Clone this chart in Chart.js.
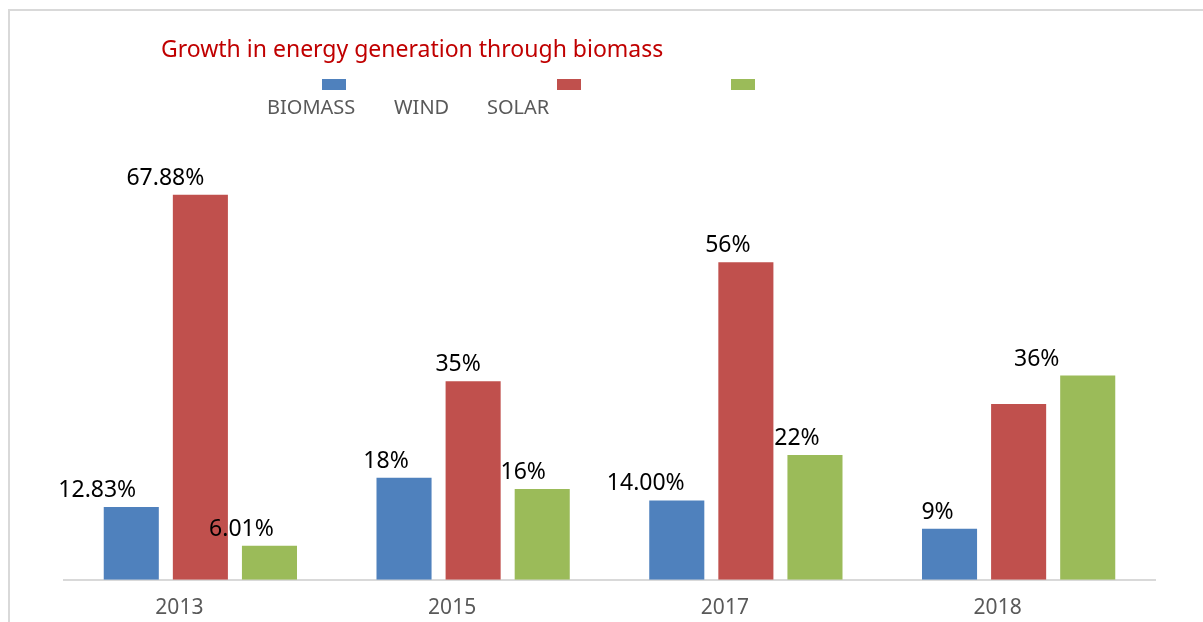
<!DOCTYPE html>
<html>
<head>
<meta charset="utf-8">
<script src="https://cdn.jsdelivr.net/npm/chart.js@4.4.1/dist/chart.umd.min.js"></script>
<style>
  html, body { margin: 0; padding: 0; background: #fff; overflow: hidden; }
  #wrap { width: 1203px; height: 637px; position: relative; }
</style>
</head>
<body>
<div id="wrap"><canvas id="graphe"></canvas></div>
<script>
// data
const years = ['2013', '2015', '2017', '2018'];
const biomass = [12.83, 18, 14, 9];
const wind = [67.88, 35, 56, 31];
const solar = [6.01, 16, 22, 36];
const biomassText = ['12.83%', '18%', '14.00%', '9%'];
const windText = ['67.88%', '35%', '56%', ''];
const solarText = ['6.01%', '16%', '22%', '36%'];

const blue = '#4f81bd';
const red = '#c0504d';
const green = '#9bbb59';
const font = '"Noto Sans", "Open Sans", sans-serif';

// label shift to the left of each bar, like in the original
const shifts = [
  [-34, -18, -31, -12],
  [-35, -15, -18, 0],
  [-28, -19, -18, -51]
];
const texts = [biomassText, windText, solarText];

const decor = {
  id: 'decor',
  beforeDraw(chart) {
    const c = chart.ctx;
    c.save();
    c.fillStyle = '#fff';
    c.fillRect(0, 0, chart.width, chart.height);
    c.strokeStyle = '#d9d9d9';
    c.lineWidth = 2;
    c.beginPath();
    c.moveTo(9, chart.height);
    c.lineTo(9, 10);
    c.lineTo(chart.width, 10);
    c.stroke();
    c.restore();
  },
  afterDatasetsDraw(chart) {
    const c = chart.ctx;
    c.save();
    // title
    c.font = '23px ' + font;
    c.fillStyle = '#c00000';
    c.textBaseline = 'alphabetic';
    c.textAlign = 'left';
    c.fillText('Growth in energy generation through biomass', 161, 57);

    // legend, boxes and names sit apart as in the picture
    const boxes = [[322, blue], [557, red], [731, green]];
    boxes.forEach(b => {
      c.fillStyle = b[1];
      c.fillRect(b[0], 79, 24, 11);
    });
    c.font = '20px ' + font;
    c.fillStyle = '#595959';
    chart.data.datasets.forEach((ds, i) => {
      c.fillText(ds.label, [267, 394, 487][i], 114);
    });

    // value labels
    c.font = '23px ' + font;
    c.fillStyle = '#000';
    c.textAlign = 'center';
    chart.data.datasets.forEach((ds, i) => {
      chart.getDatasetMeta(i).data.forEach((bar, j) => {
        const t = texts[i][j];
        if (!t) return;
        c.fillText(t, bar.x + shifts[i][j], bar.y - 10);
      });
    });
    c.restore();
  }
};

new Chart(document.getElementById('graphe'), {
  type: 'bar',
  data: {
    labels: years,
    datasets: [
      { label: 'BIOMASS', data: biomass, backgroundColor: blue },
      { label: 'WIND', data: wind, backgroundColor: red },
      { label: 'SOLAR', data: solar, backgroundColor: green }
    ]
  },
  options: {
    responsive: true,
    maintainAspectRatio: false,
    animation: false,
    categoryPercentage: 0.76,
    barPercentage: 0.797,
    layout: { padding: { left: 64, right: 48, top: 126, bottom: 0 } },
    plugins: {
      legend: { display: false },
      title: { display: false },
      tooltip: { enabled: false }
    },
    scales: {
      x: {
        grid: { display: false, drawTicks: false },
        border: { display: true, color: '#d9d9d9', width: 2 },
        ticks: { color: '#595959', font: { family: font, size: 21 }, padding: 16, labelOffset: -21 }
      },
      y: {
        display: false,
        min: 0,
        max: 80
      }
    }
  },
  plugins: [decor]
});
</script>
</body>
</html>
